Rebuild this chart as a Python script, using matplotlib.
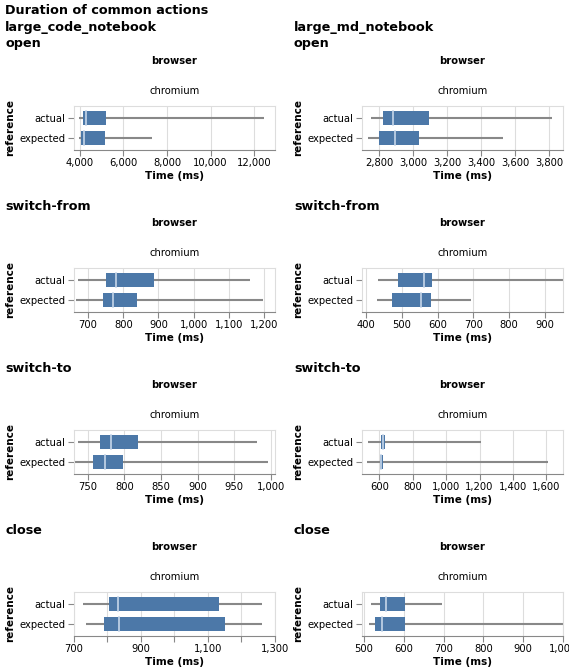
import matplotlib.pyplot as plt
from matplotlib.patches import Rectangle

# five-number summaries (min, q1, median, q3, max) per reference level: [actual, expected]
notebooks = ["large_code_notebook", "large_md_notebook"]
actions = ["open", "switch-from", "switch-to", "close"]
references = ["actual", "expected"]

code_open = [[3950, 4150, 4285, 5210, 12460], [3950, 4070, 4200, 5170, 7300]]
md_open = [[2750, 2822, 2883, 3095, 3816], [2734, 2800, 2894, 3033, 3527]]
code_switch_from = [[671, 750, 778, 887, 1159], [665, 742, 772, 838, 1198]]
md_switch_from = [[434, 490, 561, 583, 980], [431, 472, 554, 580, 692]]
code_switch_to = [[736, 767, 781, 819, 981], [733, 757, 773, 798, 997]]
md_switch_to = [[534, 612, 624, 636, 1210], [526, 604, 612, 624, 1612]]
code_close = [[728, 805, 831, 1132, 1261], [736, 791, 835, 1151, 1260]]
md_close = [[517, 540, 555, 603, 697], [513, 528, 545, 603, 1002]]

stats = [[code_open, md_open],
         [code_switch_from, md_switch_from],
         [code_switch_to, md_switch_to],
         [code_close, md_close]]

# axis settings per panel: (xmin, xmax, tick list)
ticks = [
    [(3730, 12960, range(4000, 12001, 2000)), (2698, 3882, range(2800, 3801, 200))],
    [(660, 1231, range(700, 1201, 100)), (388, 951, range(400, 901, 100))],
    [(731, 1006, range(750, 1001, 50)), (496, 1700, range(600, 1601, 200))],
    [(700, 1300, range(700, 1301, 100)), (495, 1000, range(500, 1001, 100))],
]

W, H = 569, 672
fig = plt.figure(figsize=(W / 100, H / 100), dpi=100)
plt.rcParams['font.family'] = 'DejaVu Sans'

BLUE = '#4c78a8'
GRAY = '#888888'

fig.text(5 / W, 1 - 10 / H, "Duration of common actions", fontsize=9.2,
         fontweight='bold', va='center', ha='left')

col_x = [74, 362]
pw, ph = 201, 44
for r, action in enumerate(actions):
    top = 106 + 162 * r
    for c in range(2):
        x0 = col_x[c]
        tx = 5 if c == 0 else 294
        if r == 0:
            fig.text(tx / W, 1 - 27 / H, notebooks[c], fontsize=9.2,
                     fontweight='bold', va='center', ha='left')
        fig.text(tx / W, 1 - (44 + 162 * r) / H, action, fontsize=9.2,
                 fontweight='bold', va='center', ha='left')
        fig.text((x0 + pw / 2) / W, 1 - (61 + 162 * r) / H, "browser",
                 fontsize=7.2, fontweight='bold', va='center', ha='center')
        fig.text((x0 + pw / 2) / W, 1 - (91 + 162 * r) / H, "chromium",
                 fontsize=7.2, va='center', ha='center')

        ax = fig.add_axes([x0 / W, 1 - (top + ph) / H, pw / W, ph / H])
        xmin, xmax, tk = ticks[r][c]
        tk = list(tk)
        for i, s in enumerate(stats[r][c]):
            mn, q1, md, q3, mx = s
            ax.plot([mn, mx], [i, i], color=GRAY, lw=1.5, zorder=2,
                    solid_capstyle='butt', clip_on=True)
            ax.add_patch(Rectangle((q1, i - 0.35), q3 - q1, 0.7,
                                   facecolor=BLUE, edgecolor='none', zorder=3))
            ax.plot([md, md], [i - 0.35, i + 0.35], color='#c6d6ea', lw=1.2, zorder=4)
        ax.set_xlim(xmin, xmax)
        ax.set_ylim(1.6, -0.6)
        ax.set_yticks([0, 1])
        ax.set_yticklabels(references)
        ax.set_xticks(tk)
        if r == 3 and c == 0:
            labels = [f"{t:,}" if (t - 700) % 200 == 0 else "" for t in tk]
        else:
            labels = [f"{t:,}" for t in tk]
        ax.set_xticklabels(labels)
        ax.grid(axis='x', color='#dddddd', lw=0.8, zorder=0)
        ax.set_axisbelow(True)
        for sp in ['top', 'right', 'left']:
            ax.spines[sp].set_color('#dddddd')
        ax.spines['bottom'].set_color(GRAY)
        ax.tick_params(axis='both', labelsize=7.2, colors=GRAY, length=4,
                       width=0.8, labelcolor='black', pad=2)
        ax.set_xlabel("Time (ms)", fontsize=7.5, fontweight='bold', labelpad=2)
        ax.set_ylabel("reference", fontsize=7.5, fontweight='bold', labelpad=3)

fig.savefig("out.png", dpi=100)
